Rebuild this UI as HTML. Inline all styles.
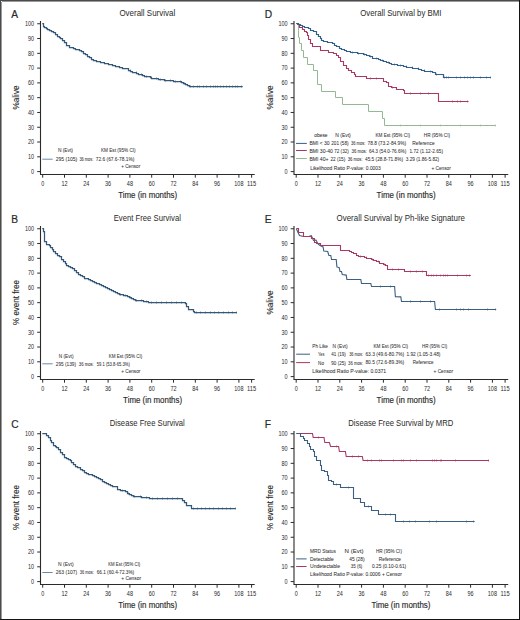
<!DOCTYPE html>
<html><head><meta charset="utf-8"><style>
html,body{margin:0;padding:0;background:#fff;width:520px;height:620px;overflow:hidden;position:relative;font-family:"Liberation Sans", sans-serif;}
</style></head><body>
<svg width="520" height="620" viewBox="0 0 520 620" style="position:absolute;left:0;top:0" font-family='"Liberation Sans", sans-serif'>
<rect x="0" y="0" width="520" height="620" fill="#fff"/>
<g transform="translate(0.00,0.00)">
<path d="M40.5,21.0 V174.5 H254.7" fill="none" stroke="#2b2b2b" stroke-width="1.1"/>
<path d="M37.2,171.60 H40.5" stroke="#2b2b2b" stroke-width="1"/>
<text x="34.10" y="173.85" font-size="6.4" text-anchor="end" fill="#2a2a2a" textLength="3.05" lengthAdjust="spacingAndGlyphs">0</text>
<path d="M37.2,156.81 H40.5" stroke="#2b2b2b" stroke-width="1"/>
<text x="34.10" y="159.06" font-size="6.4" text-anchor="end" fill="#2a2a2a" textLength="6.10" lengthAdjust="spacingAndGlyphs">10</text>
<path d="M37.2,142.03 H40.5" stroke="#2b2b2b" stroke-width="1"/>
<text x="34.10" y="144.28" font-size="6.4" text-anchor="end" fill="#2a2a2a" textLength="6.10" lengthAdjust="spacingAndGlyphs">20</text>
<path d="M37.2,127.25 H40.5" stroke="#2b2b2b" stroke-width="1"/>
<text x="34.10" y="129.50" font-size="6.4" text-anchor="end" fill="#2a2a2a" textLength="6.10" lengthAdjust="spacingAndGlyphs">30</text>
<path d="M37.2,112.46 H40.5" stroke="#2b2b2b" stroke-width="1"/>
<text x="34.10" y="114.71" font-size="6.4" text-anchor="end" fill="#2a2a2a" textLength="6.10" lengthAdjust="spacingAndGlyphs">40</text>
<path d="M37.2,97.67 H40.5" stroke="#2b2b2b" stroke-width="1"/>
<text x="34.10" y="99.92" font-size="6.4" text-anchor="end" fill="#2a2a2a" textLength="6.10" lengthAdjust="spacingAndGlyphs">50</text>
<path d="M37.2,82.89 H40.5" stroke="#2b2b2b" stroke-width="1"/>
<text x="34.10" y="85.14" font-size="6.4" text-anchor="end" fill="#2a2a2a" textLength="6.10" lengthAdjust="spacingAndGlyphs">60</text>
<path d="M37.2,68.11 H40.5" stroke="#2b2b2b" stroke-width="1"/>
<text x="34.10" y="70.36" font-size="6.4" text-anchor="end" fill="#2a2a2a" textLength="6.10" lengthAdjust="spacingAndGlyphs">70</text>
<path d="M37.2,53.32 H40.5" stroke="#2b2b2b" stroke-width="1"/>
<text x="34.10" y="55.57" font-size="6.4" text-anchor="end" fill="#2a2a2a" textLength="6.10" lengthAdjust="spacingAndGlyphs">80</text>
<path d="M37.2,38.53 H40.5" stroke="#2b2b2b" stroke-width="1"/>
<text x="34.10" y="40.78" font-size="6.4" text-anchor="end" fill="#2a2a2a" textLength="6.10" lengthAdjust="spacingAndGlyphs">90</text>
<path d="M37.2,23.75 H40.5" stroke="#2b2b2b" stroke-width="1"/>
<text x="34.10" y="26.00" font-size="6.4" text-anchor="end" fill="#2a2a2a" textLength="9.15" lengthAdjust="spacingAndGlyphs">100</text>
<path d="M42.70,174.5 V177.7" stroke="#2b2b2b" stroke-width="1"/>
<text x="42.70" y="185.90" font-size="6.4" text-anchor="middle" fill="#2a2a2a" textLength="3.05" lengthAdjust="spacingAndGlyphs">0</text>
<path d="M64.50,174.5 V177.7" stroke="#2b2b2b" stroke-width="1"/>
<text x="64.50" y="185.90" font-size="6.4" text-anchor="middle" fill="#2a2a2a" textLength="6.10" lengthAdjust="spacingAndGlyphs">12</text>
<path d="M86.30,174.5 V177.7" stroke="#2b2b2b" stroke-width="1"/>
<text x="86.30" y="185.90" font-size="6.4" text-anchor="middle" fill="#2a2a2a" textLength="6.10" lengthAdjust="spacingAndGlyphs">24</text>
<path d="M108.10,174.5 V177.7" stroke="#2b2b2b" stroke-width="1"/>
<text x="108.10" y="185.90" font-size="6.4" text-anchor="middle" fill="#2a2a2a" textLength="6.10" lengthAdjust="spacingAndGlyphs">36</text>
<path d="M129.90,174.5 V177.7" stroke="#2b2b2b" stroke-width="1"/>
<text x="129.90" y="185.90" font-size="6.4" text-anchor="middle" fill="#2a2a2a" textLength="6.10" lengthAdjust="spacingAndGlyphs">48</text>
<path d="M151.70,174.5 V177.7" stroke="#2b2b2b" stroke-width="1"/>
<text x="151.70" y="185.90" font-size="6.4" text-anchor="middle" fill="#2a2a2a" textLength="6.10" lengthAdjust="spacingAndGlyphs">60</text>
<path d="M173.50,174.5 V177.7" stroke="#2b2b2b" stroke-width="1"/>
<text x="173.50" y="185.90" font-size="6.4" text-anchor="middle" fill="#2a2a2a" textLength="6.10" lengthAdjust="spacingAndGlyphs">72</text>
<path d="M195.30,174.5 V177.7" stroke="#2b2b2b" stroke-width="1"/>
<text x="195.30" y="185.90" font-size="6.4" text-anchor="middle" fill="#2a2a2a" textLength="6.10" lengthAdjust="spacingAndGlyphs">84</text>
<path d="M217.10,174.5 V177.7" stroke="#2b2b2b" stroke-width="1"/>
<text x="217.10" y="185.90" font-size="6.4" text-anchor="middle" fill="#2a2a2a" textLength="6.10" lengthAdjust="spacingAndGlyphs">96</text>
<path d="M238.90,174.5 V177.7" stroke="#2b2b2b" stroke-width="1"/>
<text x="238.90" y="185.90" font-size="6.4" text-anchor="middle" fill="#2a2a2a" textLength="9.15" lengthAdjust="spacingAndGlyphs">108</text>
<path d="M251.62,174.5 V177.7" stroke="#2b2b2b" stroke-width="1"/>
<text x="251.62" y="185.90" font-size="6.4" text-anchor="middle" fill="#2a2a2a" textLength="9.15" lengthAdjust="spacingAndGlyphs">115</text>
<text x="147.70" y="198.00" font-size="8.2" text-anchor="middle" fill="#2a2a2a" textLength="59.00" lengthAdjust="spacingAndGlyphs" stroke="#2a2a2a" stroke-width="0.15">Time (in months)</text>
<text x="11.30" y="17.80" font-size="10.2" text-anchor="start" fill="#2a2a2a" stroke="#2a2a2a" stroke-width="0.2">A</text>
<text x="147.30" y="16.00" font-size="9.4" text-anchor="middle" fill="#2a2a2a" textLength="55.80" lengthAdjust="spacingAndGlyphs">Overall Survival</text>
<text transform="translate(19.2,97.5) rotate(-90)" x="0" y="0" font-size="8.8" text-anchor="middle" fill="#2a2a2a" textLength="24.00" lengthAdjust="spacingAndGlyphs" stroke="#2a2a2a" stroke-width="0.12">%alive</text>
</g>
<g transform="translate(0.00,205.00)">
<path d="M40.5,21.0 V174.5 H254.7" fill="none" stroke="#2b2b2b" stroke-width="1.1"/>
<path d="M37.2,171.60 H40.5" stroke="#2b2b2b" stroke-width="1"/>
<text x="34.10" y="173.85" font-size="6.4" text-anchor="end" fill="#2a2a2a" textLength="3.05" lengthAdjust="spacingAndGlyphs">0</text>
<path d="M37.2,156.81 H40.5" stroke="#2b2b2b" stroke-width="1"/>
<text x="34.10" y="159.06" font-size="6.4" text-anchor="end" fill="#2a2a2a" textLength="6.10" lengthAdjust="spacingAndGlyphs">10</text>
<path d="M37.2,142.03 H40.5" stroke="#2b2b2b" stroke-width="1"/>
<text x="34.10" y="144.28" font-size="6.4" text-anchor="end" fill="#2a2a2a" textLength="6.10" lengthAdjust="spacingAndGlyphs">20</text>
<path d="M37.2,127.25 H40.5" stroke="#2b2b2b" stroke-width="1"/>
<text x="34.10" y="129.50" font-size="6.4" text-anchor="end" fill="#2a2a2a" textLength="6.10" lengthAdjust="spacingAndGlyphs">30</text>
<path d="M37.2,112.46 H40.5" stroke="#2b2b2b" stroke-width="1"/>
<text x="34.10" y="114.71" font-size="6.4" text-anchor="end" fill="#2a2a2a" textLength="6.10" lengthAdjust="spacingAndGlyphs">40</text>
<path d="M37.2,97.67 H40.5" stroke="#2b2b2b" stroke-width="1"/>
<text x="34.10" y="99.92" font-size="6.4" text-anchor="end" fill="#2a2a2a" textLength="6.10" lengthAdjust="spacingAndGlyphs">50</text>
<path d="M37.2,82.89 H40.5" stroke="#2b2b2b" stroke-width="1"/>
<text x="34.10" y="85.14" font-size="6.4" text-anchor="end" fill="#2a2a2a" textLength="6.10" lengthAdjust="spacingAndGlyphs">60</text>
<path d="M37.2,68.11 H40.5" stroke="#2b2b2b" stroke-width="1"/>
<text x="34.10" y="70.36" font-size="6.4" text-anchor="end" fill="#2a2a2a" textLength="6.10" lengthAdjust="spacingAndGlyphs">70</text>
<path d="M37.2,53.32 H40.5" stroke="#2b2b2b" stroke-width="1"/>
<text x="34.10" y="55.57" font-size="6.4" text-anchor="end" fill="#2a2a2a" textLength="6.10" lengthAdjust="spacingAndGlyphs">80</text>
<path d="M37.2,38.53 H40.5" stroke="#2b2b2b" stroke-width="1"/>
<text x="34.10" y="40.78" font-size="6.4" text-anchor="end" fill="#2a2a2a" textLength="6.10" lengthAdjust="spacingAndGlyphs">90</text>
<path d="M37.2,23.75 H40.5" stroke="#2b2b2b" stroke-width="1"/>
<text x="34.10" y="26.00" font-size="6.4" text-anchor="end" fill="#2a2a2a" textLength="9.15" lengthAdjust="spacingAndGlyphs">100</text>
<path d="M42.70,174.5 V177.7" stroke="#2b2b2b" stroke-width="1"/>
<text x="42.70" y="185.90" font-size="6.4" text-anchor="middle" fill="#2a2a2a" textLength="3.05" lengthAdjust="spacingAndGlyphs">0</text>
<path d="M64.50,174.5 V177.7" stroke="#2b2b2b" stroke-width="1"/>
<text x="64.50" y="185.90" font-size="6.4" text-anchor="middle" fill="#2a2a2a" textLength="6.10" lengthAdjust="spacingAndGlyphs">12</text>
<path d="M86.30,174.5 V177.7" stroke="#2b2b2b" stroke-width="1"/>
<text x="86.30" y="185.90" font-size="6.4" text-anchor="middle" fill="#2a2a2a" textLength="6.10" lengthAdjust="spacingAndGlyphs">24</text>
<path d="M108.10,174.5 V177.7" stroke="#2b2b2b" stroke-width="1"/>
<text x="108.10" y="185.90" font-size="6.4" text-anchor="middle" fill="#2a2a2a" textLength="6.10" lengthAdjust="spacingAndGlyphs">36</text>
<path d="M129.90,174.5 V177.7" stroke="#2b2b2b" stroke-width="1"/>
<text x="129.90" y="185.90" font-size="6.4" text-anchor="middle" fill="#2a2a2a" textLength="6.10" lengthAdjust="spacingAndGlyphs">48</text>
<path d="M151.70,174.5 V177.7" stroke="#2b2b2b" stroke-width="1"/>
<text x="151.70" y="185.90" font-size="6.4" text-anchor="middle" fill="#2a2a2a" textLength="6.10" lengthAdjust="spacingAndGlyphs">60</text>
<path d="M173.50,174.5 V177.7" stroke="#2b2b2b" stroke-width="1"/>
<text x="173.50" y="185.90" font-size="6.4" text-anchor="middle" fill="#2a2a2a" textLength="6.10" lengthAdjust="spacingAndGlyphs">72</text>
<path d="M195.30,174.5 V177.7" stroke="#2b2b2b" stroke-width="1"/>
<text x="195.30" y="185.90" font-size="6.4" text-anchor="middle" fill="#2a2a2a" textLength="6.10" lengthAdjust="spacingAndGlyphs">84</text>
<path d="M217.10,174.5 V177.7" stroke="#2b2b2b" stroke-width="1"/>
<text x="217.10" y="185.90" font-size="6.4" text-anchor="middle" fill="#2a2a2a" textLength="6.10" lengthAdjust="spacingAndGlyphs">96</text>
<path d="M238.90,174.5 V177.7" stroke="#2b2b2b" stroke-width="1"/>
<text x="238.90" y="185.90" font-size="6.4" text-anchor="middle" fill="#2a2a2a" textLength="9.15" lengthAdjust="spacingAndGlyphs">108</text>
<path d="M251.62,174.5 V177.7" stroke="#2b2b2b" stroke-width="1"/>
<text x="251.62" y="185.90" font-size="6.4" text-anchor="middle" fill="#2a2a2a" textLength="9.15" lengthAdjust="spacingAndGlyphs">115</text>
<text x="152.60" y="198.00" font-size="8.2" text-anchor="middle" fill="#2a2a2a" textLength="59.00" lengthAdjust="spacingAndGlyphs" stroke="#2a2a2a" stroke-width="0.15">Time (in months)</text>
<text x="11.30" y="17.80" font-size="10.2" text-anchor="start" fill="#2a2a2a" stroke="#2a2a2a" stroke-width="0.2">B</text>
<text x="147.30" y="16.00" font-size="9.4" text-anchor="middle" fill="#2a2a2a" textLength="67.20" lengthAdjust="spacingAndGlyphs">Event Free Survival</text>
<text transform="translate(19.2,97.5) rotate(-90)" x="0" y="0" font-size="8.8" text-anchor="middle" fill="#2a2a2a" textLength="44.80" lengthAdjust="spacingAndGlyphs" stroke="#2a2a2a" stroke-width="0.12">% event free</text>
</g>
<g transform="translate(0.00,410.00)">
<path d="M40.5,21.0 V174.5 H254.7" fill="none" stroke="#2b2b2b" stroke-width="1.1"/>
<path d="M37.2,171.60 H40.5" stroke="#2b2b2b" stroke-width="1"/>
<text x="34.10" y="173.85" font-size="6.4" text-anchor="end" fill="#2a2a2a" textLength="3.05" lengthAdjust="spacingAndGlyphs">0</text>
<path d="M37.2,156.81 H40.5" stroke="#2b2b2b" stroke-width="1"/>
<text x="34.10" y="159.06" font-size="6.4" text-anchor="end" fill="#2a2a2a" textLength="6.10" lengthAdjust="spacingAndGlyphs">10</text>
<path d="M37.2,142.03 H40.5" stroke="#2b2b2b" stroke-width="1"/>
<text x="34.10" y="144.28" font-size="6.4" text-anchor="end" fill="#2a2a2a" textLength="6.10" lengthAdjust="spacingAndGlyphs">20</text>
<path d="M37.2,127.25 H40.5" stroke="#2b2b2b" stroke-width="1"/>
<text x="34.10" y="129.50" font-size="6.4" text-anchor="end" fill="#2a2a2a" textLength="6.10" lengthAdjust="spacingAndGlyphs">30</text>
<path d="M37.2,112.46 H40.5" stroke="#2b2b2b" stroke-width="1"/>
<text x="34.10" y="114.71" font-size="6.4" text-anchor="end" fill="#2a2a2a" textLength="6.10" lengthAdjust="spacingAndGlyphs">40</text>
<path d="M37.2,97.67 H40.5" stroke="#2b2b2b" stroke-width="1"/>
<text x="34.10" y="99.92" font-size="6.4" text-anchor="end" fill="#2a2a2a" textLength="6.10" lengthAdjust="spacingAndGlyphs">50</text>
<path d="M37.2,82.89 H40.5" stroke="#2b2b2b" stroke-width="1"/>
<text x="34.10" y="85.14" font-size="6.4" text-anchor="end" fill="#2a2a2a" textLength="6.10" lengthAdjust="spacingAndGlyphs">60</text>
<path d="M37.2,68.11 H40.5" stroke="#2b2b2b" stroke-width="1"/>
<text x="34.10" y="70.36" font-size="6.4" text-anchor="end" fill="#2a2a2a" textLength="6.10" lengthAdjust="spacingAndGlyphs">70</text>
<path d="M37.2,53.32 H40.5" stroke="#2b2b2b" stroke-width="1"/>
<text x="34.10" y="55.57" font-size="6.4" text-anchor="end" fill="#2a2a2a" textLength="6.10" lengthAdjust="spacingAndGlyphs">80</text>
<path d="M37.2,38.53 H40.5" stroke="#2b2b2b" stroke-width="1"/>
<text x="34.10" y="40.78" font-size="6.4" text-anchor="end" fill="#2a2a2a" textLength="6.10" lengthAdjust="spacingAndGlyphs">90</text>
<path d="M37.2,23.75 H40.5" stroke="#2b2b2b" stroke-width="1"/>
<text x="34.10" y="26.00" font-size="6.4" text-anchor="end" fill="#2a2a2a" textLength="9.15" lengthAdjust="spacingAndGlyphs">100</text>
<path d="M42.70,174.5 V177.7" stroke="#2b2b2b" stroke-width="1"/>
<text x="42.70" y="185.90" font-size="6.4" text-anchor="middle" fill="#2a2a2a" textLength="3.05" lengthAdjust="spacingAndGlyphs">0</text>
<path d="M64.50,174.5 V177.7" stroke="#2b2b2b" stroke-width="1"/>
<text x="64.50" y="185.90" font-size="6.4" text-anchor="middle" fill="#2a2a2a" textLength="6.10" lengthAdjust="spacingAndGlyphs">12</text>
<path d="M86.30,174.5 V177.7" stroke="#2b2b2b" stroke-width="1"/>
<text x="86.30" y="185.90" font-size="6.4" text-anchor="middle" fill="#2a2a2a" textLength="6.10" lengthAdjust="spacingAndGlyphs">24</text>
<path d="M108.10,174.5 V177.7" stroke="#2b2b2b" stroke-width="1"/>
<text x="108.10" y="185.90" font-size="6.4" text-anchor="middle" fill="#2a2a2a" textLength="6.10" lengthAdjust="spacingAndGlyphs">36</text>
<path d="M129.90,174.5 V177.7" stroke="#2b2b2b" stroke-width="1"/>
<text x="129.90" y="185.90" font-size="6.4" text-anchor="middle" fill="#2a2a2a" textLength="6.10" lengthAdjust="spacingAndGlyphs">48</text>
<path d="M151.70,174.5 V177.7" stroke="#2b2b2b" stroke-width="1"/>
<text x="151.70" y="185.90" font-size="6.4" text-anchor="middle" fill="#2a2a2a" textLength="6.10" lengthAdjust="spacingAndGlyphs">60</text>
<path d="M173.50,174.5 V177.7" stroke="#2b2b2b" stroke-width="1"/>
<text x="173.50" y="185.90" font-size="6.4" text-anchor="middle" fill="#2a2a2a" textLength="6.10" lengthAdjust="spacingAndGlyphs">72</text>
<path d="M195.30,174.5 V177.7" stroke="#2b2b2b" stroke-width="1"/>
<text x="195.30" y="185.90" font-size="6.4" text-anchor="middle" fill="#2a2a2a" textLength="6.10" lengthAdjust="spacingAndGlyphs">84</text>
<path d="M217.10,174.5 V177.7" stroke="#2b2b2b" stroke-width="1"/>
<text x="217.10" y="185.90" font-size="6.4" text-anchor="middle" fill="#2a2a2a" textLength="6.10" lengthAdjust="spacingAndGlyphs">96</text>
<path d="M238.90,174.5 V177.7" stroke="#2b2b2b" stroke-width="1"/>
<text x="238.90" y="185.90" font-size="6.4" text-anchor="middle" fill="#2a2a2a" textLength="9.15" lengthAdjust="spacingAndGlyphs">108</text>
<path d="M251.62,174.5 V177.7" stroke="#2b2b2b" stroke-width="1"/>
<text x="251.62" y="185.90" font-size="6.4" text-anchor="middle" fill="#2a2a2a" textLength="9.15" lengthAdjust="spacingAndGlyphs">115</text>
<text x="147.70" y="198.00" font-size="8.2" text-anchor="middle" fill="#2a2a2a" textLength="59.00" lengthAdjust="spacingAndGlyphs" stroke="#2a2a2a" stroke-width="0.15">Time (in months)</text>
<text x="11.30" y="17.80" font-size="10.2" text-anchor="start" fill="#2a2a2a" stroke="#2a2a2a" stroke-width="0.2">C</text>
<text x="147.30" y="16.00" font-size="9.4" text-anchor="middle" fill="#2a2a2a" textLength="75.00" lengthAdjust="spacingAndGlyphs">Disease Free Survival</text>
<text transform="translate(19.2,97.5) rotate(-90)" x="0" y="0" font-size="8.8" text-anchor="middle" fill="#2a2a2a" textLength="44.80" lengthAdjust="spacingAndGlyphs" stroke="#2a2a2a" stroke-width="0.12">% event free</text>
</g>
<g transform="translate(253.50,0.00)">
<path d="M40.5,21.0 V174.5 H254.7" fill="none" stroke="#2b2b2b" stroke-width="1.1"/>
<path d="M37.2,171.60 H40.5" stroke="#2b2b2b" stroke-width="1"/>
<text x="34.10" y="173.85" font-size="6.4" text-anchor="end" fill="#2a2a2a" textLength="3.05" lengthAdjust="spacingAndGlyphs">0</text>
<path d="M37.2,156.81 H40.5" stroke="#2b2b2b" stroke-width="1"/>
<text x="34.10" y="159.06" font-size="6.4" text-anchor="end" fill="#2a2a2a" textLength="6.10" lengthAdjust="spacingAndGlyphs">10</text>
<path d="M37.2,142.03 H40.5" stroke="#2b2b2b" stroke-width="1"/>
<text x="34.10" y="144.28" font-size="6.4" text-anchor="end" fill="#2a2a2a" textLength="6.10" lengthAdjust="spacingAndGlyphs">20</text>
<path d="M37.2,127.25 H40.5" stroke="#2b2b2b" stroke-width="1"/>
<text x="34.10" y="129.50" font-size="6.4" text-anchor="end" fill="#2a2a2a" textLength="6.10" lengthAdjust="spacingAndGlyphs">30</text>
<path d="M37.2,112.46 H40.5" stroke="#2b2b2b" stroke-width="1"/>
<text x="34.10" y="114.71" font-size="6.4" text-anchor="end" fill="#2a2a2a" textLength="6.10" lengthAdjust="spacingAndGlyphs">40</text>
<path d="M37.2,97.67 H40.5" stroke="#2b2b2b" stroke-width="1"/>
<text x="34.10" y="99.92" font-size="6.4" text-anchor="end" fill="#2a2a2a" textLength="6.10" lengthAdjust="spacingAndGlyphs">50</text>
<path d="M37.2,82.89 H40.5" stroke="#2b2b2b" stroke-width="1"/>
<text x="34.10" y="85.14" font-size="6.4" text-anchor="end" fill="#2a2a2a" textLength="6.10" lengthAdjust="spacingAndGlyphs">60</text>
<path d="M37.2,68.11 H40.5" stroke="#2b2b2b" stroke-width="1"/>
<text x="34.10" y="70.36" font-size="6.4" text-anchor="end" fill="#2a2a2a" textLength="6.10" lengthAdjust="spacingAndGlyphs">70</text>
<path d="M37.2,53.32 H40.5" stroke="#2b2b2b" stroke-width="1"/>
<text x="34.10" y="55.57" font-size="6.4" text-anchor="end" fill="#2a2a2a" textLength="6.10" lengthAdjust="spacingAndGlyphs">80</text>
<path d="M37.2,38.53 H40.5" stroke="#2b2b2b" stroke-width="1"/>
<text x="34.10" y="40.78" font-size="6.4" text-anchor="end" fill="#2a2a2a" textLength="6.10" lengthAdjust="spacingAndGlyphs">90</text>
<path d="M37.2,23.75 H40.5" stroke="#2b2b2b" stroke-width="1"/>
<text x="34.10" y="26.00" font-size="6.4" text-anchor="end" fill="#2a2a2a" textLength="9.15" lengthAdjust="spacingAndGlyphs">100</text>
<path d="M42.70,174.5 V177.7" stroke="#2b2b2b" stroke-width="1"/>
<text x="42.70" y="185.90" font-size="6.4" text-anchor="middle" fill="#2a2a2a" textLength="3.05" lengthAdjust="spacingAndGlyphs">0</text>
<path d="M64.50,174.5 V177.7" stroke="#2b2b2b" stroke-width="1"/>
<text x="64.50" y="185.90" font-size="6.4" text-anchor="middle" fill="#2a2a2a" textLength="6.10" lengthAdjust="spacingAndGlyphs">12</text>
<path d="M86.30,174.5 V177.7" stroke="#2b2b2b" stroke-width="1"/>
<text x="86.30" y="185.90" font-size="6.4" text-anchor="middle" fill="#2a2a2a" textLength="6.10" lengthAdjust="spacingAndGlyphs">24</text>
<path d="M108.10,174.5 V177.7" stroke="#2b2b2b" stroke-width="1"/>
<text x="108.10" y="185.90" font-size="6.4" text-anchor="middle" fill="#2a2a2a" textLength="6.10" lengthAdjust="spacingAndGlyphs">36</text>
<path d="M129.90,174.5 V177.7" stroke="#2b2b2b" stroke-width="1"/>
<text x="129.90" y="185.90" font-size="6.4" text-anchor="middle" fill="#2a2a2a" textLength="6.10" lengthAdjust="spacingAndGlyphs">48</text>
<path d="M151.70,174.5 V177.7" stroke="#2b2b2b" stroke-width="1"/>
<text x="151.70" y="185.90" font-size="6.4" text-anchor="middle" fill="#2a2a2a" textLength="6.10" lengthAdjust="spacingAndGlyphs">60</text>
<path d="M173.50,174.5 V177.7" stroke="#2b2b2b" stroke-width="1"/>
<text x="173.50" y="185.90" font-size="6.4" text-anchor="middle" fill="#2a2a2a" textLength="6.10" lengthAdjust="spacingAndGlyphs">72</text>
<path d="M195.30,174.5 V177.7" stroke="#2b2b2b" stroke-width="1"/>
<text x="195.30" y="185.90" font-size="6.4" text-anchor="middle" fill="#2a2a2a" textLength="6.10" lengthAdjust="spacingAndGlyphs">84</text>
<path d="M217.10,174.5 V177.7" stroke="#2b2b2b" stroke-width="1"/>
<text x="217.10" y="185.90" font-size="6.4" text-anchor="middle" fill="#2a2a2a" textLength="6.10" lengthAdjust="spacingAndGlyphs">96</text>
<path d="M238.90,174.5 V177.7" stroke="#2b2b2b" stroke-width="1"/>
<text x="238.90" y="185.90" font-size="6.4" text-anchor="middle" fill="#2a2a2a" textLength="9.15" lengthAdjust="spacingAndGlyphs">108</text>
<path d="M251.62,174.5 V177.7" stroke="#2b2b2b" stroke-width="1"/>
<text x="251.62" y="185.90" font-size="6.4" text-anchor="middle" fill="#2a2a2a" textLength="9.15" lengthAdjust="spacingAndGlyphs">115</text>
<text x="152.60" y="198.00" font-size="8.2" text-anchor="middle" fill="#2a2a2a" textLength="59.00" lengthAdjust="spacingAndGlyphs" stroke="#2a2a2a" stroke-width="0.15">Time (in months)</text>
<text x="11.30" y="17.80" font-size="10.2" text-anchor="start" fill="#2a2a2a" stroke="#2a2a2a" stroke-width="0.2">D</text>
<text x="147.30" y="16.00" font-size="9.4" text-anchor="middle" fill="#2a2a2a" textLength="81.00" lengthAdjust="spacingAndGlyphs">Overall Survival by BMI</text>
<text transform="translate(19.2,97.5) rotate(-90)" x="0" y="0" font-size="8.8" text-anchor="middle" fill="#2a2a2a" textLength="24.00" lengthAdjust="spacingAndGlyphs" stroke="#2a2a2a" stroke-width="0.12">%alive</text>
</g>
<g transform="translate(253.50,205.00)">
<path d="M40.5,21.0 V174.5 H254.7" fill="none" stroke="#2b2b2b" stroke-width="1.1"/>
<path d="M37.2,171.60 H40.5" stroke="#2b2b2b" stroke-width="1"/>
<text x="34.10" y="173.85" font-size="6.4" text-anchor="end" fill="#2a2a2a" textLength="3.05" lengthAdjust="spacingAndGlyphs">0</text>
<path d="M37.2,156.81 H40.5" stroke="#2b2b2b" stroke-width="1"/>
<text x="34.10" y="159.06" font-size="6.4" text-anchor="end" fill="#2a2a2a" textLength="6.10" lengthAdjust="spacingAndGlyphs">10</text>
<path d="M37.2,142.03 H40.5" stroke="#2b2b2b" stroke-width="1"/>
<text x="34.10" y="144.28" font-size="6.4" text-anchor="end" fill="#2a2a2a" textLength="6.10" lengthAdjust="spacingAndGlyphs">20</text>
<path d="M37.2,127.25 H40.5" stroke="#2b2b2b" stroke-width="1"/>
<text x="34.10" y="129.50" font-size="6.4" text-anchor="end" fill="#2a2a2a" textLength="6.10" lengthAdjust="spacingAndGlyphs">30</text>
<path d="M37.2,112.46 H40.5" stroke="#2b2b2b" stroke-width="1"/>
<text x="34.10" y="114.71" font-size="6.4" text-anchor="end" fill="#2a2a2a" textLength="6.10" lengthAdjust="spacingAndGlyphs">40</text>
<path d="M37.2,97.67 H40.5" stroke="#2b2b2b" stroke-width="1"/>
<text x="34.10" y="99.92" font-size="6.4" text-anchor="end" fill="#2a2a2a" textLength="6.10" lengthAdjust="spacingAndGlyphs">50</text>
<path d="M37.2,82.89 H40.5" stroke="#2b2b2b" stroke-width="1"/>
<text x="34.10" y="85.14" font-size="6.4" text-anchor="end" fill="#2a2a2a" textLength="6.10" lengthAdjust="spacingAndGlyphs">60</text>
<path d="M37.2,68.11 H40.5" stroke="#2b2b2b" stroke-width="1"/>
<text x="34.10" y="70.36" font-size="6.4" text-anchor="end" fill="#2a2a2a" textLength="6.10" lengthAdjust="spacingAndGlyphs">70</text>
<path d="M37.2,53.32 H40.5" stroke="#2b2b2b" stroke-width="1"/>
<text x="34.10" y="55.57" font-size="6.4" text-anchor="end" fill="#2a2a2a" textLength="6.10" lengthAdjust="spacingAndGlyphs">80</text>
<path d="M37.2,38.53 H40.5" stroke="#2b2b2b" stroke-width="1"/>
<text x="34.10" y="40.78" font-size="6.4" text-anchor="end" fill="#2a2a2a" textLength="6.10" lengthAdjust="spacingAndGlyphs">90</text>
<path d="M37.2,23.75 H40.5" stroke="#2b2b2b" stroke-width="1"/>
<text x="34.10" y="26.00" font-size="6.4" text-anchor="end" fill="#2a2a2a" textLength="9.15" lengthAdjust="spacingAndGlyphs">100</text>
<path d="M42.70,174.5 V177.7" stroke="#2b2b2b" stroke-width="1"/>
<text x="42.70" y="185.90" font-size="6.4" text-anchor="middle" fill="#2a2a2a" textLength="3.05" lengthAdjust="spacingAndGlyphs">0</text>
<path d="M64.50,174.5 V177.7" stroke="#2b2b2b" stroke-width="1"/>
<text x="64.50" y="185.90" font-size="6.4" text-anchor="middle" fill="#2a2a2a" textLength="6.10" lengthAdjust="spacingAndGlyphs">12</text>
<path d="M86.30,174.5 V177.7" stroke="#2b2b2b" stroke-width="1"/>
<text x="86.30" y="185.90" font-size="6.4" text-anchor="middle" fill="#2a2a2a" textLength="6.10" lengthAdjust="spacingAndGlyphs">24</text>
<path d="M108.10,174.5 V177.7" stroke="#2b2b2b" stroke-width="1"/>
<text x="108.10" y="185.90" font-size="6.4" text-anchor="middle" fill="#2a2a2a" textLength="6.10" lengthAdjust="spacingAndGlyphs">36</text>
<path d="M129.90,174.5 V177.7" stroke="#2b2b2b" stroke-width="1"/>
<text x="129.90" y="185.90" font-size="6.4" text-anchor="middle" fill="#2a2a2a" textLength="6.10" lengthAdjust="spacingAndGlyphs">48</text>
<path d="M151.70,174.5 V177.7" stroke="#2b2b2b" stroke-width="1"/>
<text x="151.70" y="185.90" font-size="6.4" text-anchor="middle" fill="#2a2a2a" textLength="6.10" lengthAdjust="spacingAndGlyphs">60</text>
<path d="M173.50,174.5 V177.7" stroke="#2b2b2b" stroke-width="1"/>
<text x="173.50" y="185.90" font-size="6.4" text-anchor="middle" fill="#2a2a2a" textLength="6.10" lengthAdjust="spacingAndGlyphs">72</text>
<path d="M195.30,174.5 V177.7" stroke="#2b2b2b" stroke-width="1"/>
<text x="195.30" y="185.90" font-size="6.4" text-anchor="middle" fill="#2a2a2a" textLength="6.10" lengthAdjust="spacingAndGlyphs">84</text>
<path d="M217.10,174.5 V177.7" stroke="#2b2b2b" stroke-width="1"/>
<text x="217.10" y="185.90" font-size="6.4" text-anchor="middle" fill="#2a2a2a" textLength="6.10" lengthAdjust="spacingAndGlyphs">96</text>
<path d="M238.90,174.5 V177.7" stroke="#2b2b2b" stroke-width="1"/>
<text x="238.90" y="185.90" font-size="6.4" text-anchor="middle" fill="#2a2a2a" textLength="9.15" lengthAdjust="spacingAndGlyphs">108</text>
<path d="M251.62,174.5 V177.7" stroke="#2b2b2b" stroke-width="1"/>
<text x="251.62" y="185.90" font-size="6.4" text-anchor="middle" fill="#2a2a2a" textLength="9.15" lengthAdjust="spacingAndGlyphs">115</text>
<text x="152.60" y="198.00" font-size="8.2" text-anchor="middle" fill="#2a2a2a" textLength="59.00" lengthAdjust="spacingAndGlyphs" stroke="#2a2a2a" stroke-width="0.15">Time (in months)</text>
<text x="11.30" y="17.80" font-size="10.2" text-anchor="start" fill="#2a2a2a" stroke="#2a2a2a" stroke-width="0.2">E</text>
<text x="147.30" y="16.00" font-size="9.4" text-anchor="middle" fill="#2a2a2a" textLength="128.40" lengthAdjust="spacingAndGlyphs">Overall Survival by Ph-like Signature</text>
<text transform="translate(19.2,97.5) rotate(-90)" x="0" y="0" font-size="8.8" text-anchor="middle" fill="#2a2a2a" textLength="24.00" lengthAdjust="spacingAndGlyphs" stroke="#2a2a2a" stroke-width="0.12">%alive</text>
</g>
<g transform="translate(253.50,410.00)">
<path d="M40.5,21.0 V174.5 H254.7" fill="none" stroke="#2b2b2b" stroke-width="1.1"/>
<path d="M37.2,171.60 H40.5" stroke="#2b2b2b" stroke-width="1"/>
<text x="34.10" y="173.85" font-size="6.4" text-anchor="end" fill="#2a2a2a" textLength="3.05" lengthAdjust="spacingAndGlyphs">0</text>
<path d="M37.2,156.81 H40.5" stroke="#2b2b2b" stroke-width="1"/>
<text x="34.10" y="159.06" font-size="6.4" text-anchor="end" fill="#2a2a2a" textLength="6.10" lengthAdjust="spacingAndGlyphs">10</text>
<path d="M37.2,142.03 H40.5" stroke="#2b2b2b" stroke-width="1"/>
<text x="34.10" y="144.28" font-size="6.4" text-anchor="end" fill="#2a2a2a" textLength="6.10" lengthAdjust="spacingAndGlyphs">20</text>
<path d="M37.2,127.25 H40.5" stroke="#2b2b2b" stroke-width="1"/>
<text x="34.10" y="129.50" font-size="6.4" text-anchor="end" fill="#2a2a2a" textLength="6.10" lengthAdjust="spacingAndGlyphs">30</text>
<path d="M37.2,112.46 H40.5" stroke="#2b2b2b" stroke-width="1"/>
<text x="34.10" y="114.71" font-size="6.4" text-anchor="end" fill="#2a2a2a" textLength="6.10" lengthAdjust="spacingAndGlyphs">40</text>
<path d="M37.2,97.67 H40.5" stroke="#2b2b2b" stroke-width="1"/>
<text x="34.10" y="99.92" font-size="6.4" text-anchor="end" fill="#2a2a2a" textLength="6.10" lengthAdjust="spacingAndGlyphs">50</text>
<path d="M37.2,82.89 H40.5" stroke="#2b2b2b" stroke-width="1"/>
<text x="34.10" y="85.14" font-size="6.4" text-anchor="end" fill="#2a2a2a" textLength="6.10" lengthAdjust="spacingAndGlyphs">60</text>
<path d="M37.2,68.11 H40.5" stroke="#2b2b2b" stroke-width="1"/>
<text x="34.10" y="70.36" font-size="6.4" text-anchor="end" fill="#2a2a2a" textLength="6.10" lengthAdjust="spacingAndGlyphs">70</text>
<path d="M37.2,53.32 H40.5" stroke="#2b2b2b" stroke-width="1"/>
<text x="34.10" y="55.57" font-size="6.4" text-anchor="end" fill="#2a2a2a" textLength="6.10" lengthAdjust="spacingAndGlyphs">80</text>
<path d="M37.2,38.53 H40.5" stroke="#2b2b2b" stroke-width="1"/>
<text x="34.10" y="40.78" font-size="6.4" text-anchor="end" fill="#2a2a2a" textLength="6.10" lengthAdjust="spacingAndGlyphs">90</text>
<path d="M37.2,23.75 H40.5" stroke="#2b2b2b" stroke-width="1"/>
<text x="34.10" y="26.00" font-size="6.4" text-anchor="end" fill="#2a2a2a" textLength="9.15" lengthAdjust="spacingAndGlyphs">100</text>
<path d="M42.70,174.5 V177.7" stroke="#2b2b2b" stroke-width="1"/>
<text x="42.70" y="185.90" font-size="6.4" text-anchor="middle" fill="#2a2a2a" textLength="3.05" lengthAdjust="spacingAndGlyphs">0</text>
<path d="M64.50,174.5 V177.7" stroke="#2b2b2b" stroke-width="1"/>
<text x="64.50" y="185.90" font-size="6.4" text-anchor="middle" fill="#2a2a2a" textLength="6.10" lengthAdjust="spacingAndGlyphs">12</text>
<path d="M86.30,174.5 V177.7" stroke="#2b2b2b" stroke-width="1"/>
<text x="86.30" y="185.90" font-size="6.4" text-anchor="middle" fill="#2a2a2a" textLength="6.10" lengthAdjust="spacingAndGlyphs">24</text>
<path d="M108.10,174.5 V177.7" stroke="#2b2b2b" stroke-width="1"/>
<text x="108.10" y="185.90" font-size="6.4" text-anchor="middle" fill="#2a2a2a" textLength="6.10" lengthAdjust="spacingAndGlyphs">36</text>
<path d="M129.90,174.5 V177.7" stroke="#2b2b2b" stroke-width="1"/>
<text x="129.90" y="185.90" font-size="6.4" text-anchor="middle" fill="#2a2a2a" textLength="6.10" lengthAdjust="spacingAndGlyphs">48</text>
<path d="M151.70,174.5 V177.7" stroke="#2b2b2b" stroke-width="1"/>
<text x="151.70" y="185.90" font-size="6.4" text-anchor="middle" fill="#2a2a2a" textLength="6.10" lengthAdjust="spacingAndGlyphs">60</text>
<path d="M173.50,174.5 V177.7" stroke="#2b2b2b" stroke-width="1"/>
<text x="173.50" y="185.90" font-size="6.4" text-anchor="middle" fill="#2a2a2a" textLength="6.10" lengthAdjust="spacingAndGlyphs">72</text>
<path d="M195.30,174.5 V177.7" stroke="#2b2b2b" stroke-width="1"/>
<text x="195.30" y="185.90" font-size="6.4" text-anchor="middle" fill="#2a2a2a" textLength="6.10" lengthAdjust="spacingAndGlyphs">84</text>
<path d="M217.10,174.5 V177.7" stroke="#2b2b2b" stroke-width="1"/>
<text x="217.10" y="185.90" font-size="6.4" text-anchor="middle" fill="#2a2a2a" textLength="6.10" lengthAdjust="spacingAndGlyphs">96</text>
<path d="M238.90,174.5 V177.7" stroke="#2b2b2b" stroke-width="1"/>
<text x="238.90" y="185.90" font-size="6.4" text-anchor="middle" fill="#2a2a2a" textLength="9.15" lengthAdjust="spacingAndGlyphs">108</text>
<path d="M251.62,174.5 V177.7" stroke="#2b2b2b" stroke-width="1"/>
<text x="251.62" y="185.90" font-size="6.4" text-anchor="middle" fill="#2a2a2a" textLength="9.15" lengthAdjust="spacingAndGlyphs">115</text>
<text x="147.40" y="198.00" font-size="8.2" text-anchor="middle" fill="#2a2a2a" textLength="59.00" lengthAdjust="spacingAndGlyphs" stroke="#2a2a2a" stroke-width="0.15">Time (in months)</text>
<text x="11.30" y="17.80" font-size="10.2" text-anchor="start" fill="#2a2a2a" stroke="#2a2a2a" stroke-width="0.2">F</text>
<text x="147.30" y="16.00" font-size="9.4" text-anchor="middle" fill="#2a2a2a" textLength="105.00" lengthAdjust="spacingAndGlyphs">Disease Free Survival by MRD</text>
<text transform="translate(19.2,97.5) rotate(-90)" x="0" y="0" font-size="8.8" text-anchor="middle" fill="#2a2a2a" textLength="44.80" lengthAdjust="spacingAndGlyphs" stroke="#2a2a2a" stroke-width="0.12">% event free</text>
</g>
<path d="M42.30,23.50 L43.50,23.50 L43.50,26.50 L44.50,26.50 L44.50,27.50 L46.50,27.50 L46.50,28.50 L47.50,28.50 L47.50,29.50 L49.50,29.50 L49.50,30.50 L51.50,30.50 L51.50,31.50 L53.50,31.50 L53.50,32.50 L55.50,32.50 L55.50,34.50 L57.50,34.50 L57.50,36.50 L59.50,36.50 L59.50,37.50 L60.50,37.50 L60.50,38.50 L62.50,38.50 L62.50,40.50 L64.50,40.50 L64.50,42.50 L66.50,42.50 L66.50,45.50 L69.50,45.50 L69.50,47.50 L71.50,47.50 L71.50,47.50 L73.50,47.50 L73.50,48.50 L75.50,48.50 L75.50,49.50 L77.50,49.50 L77.50,49.50 L79.50,49.50 L79.50,50.50 L81.50,50.50 L81.50,51.50 L83.50,51.50 L83.50,53.50 L85.50,53.50 L85.50,54.50 L87.50,54.50 L87.50,56.50 L89.50,56.50 L89.50,57.50 L91.50,57.50 L91.50,59.50 L93.50,59.50 L93.50,60.50 L96.50,60.50 L96.50,61.50 L98.50,61.50 L98.50,61.50 L100.50,61.50 L100.50,62.50 L102.50,62.50 L102.50,62.50 L104.50,62.50 L104.50,63.50 L106.50,63.50 L106.50,63.50 L108.50,63.50 L108.50,64.50 L110.50,64.50 L110.50,64.50 L112.50,64.50 L112.50,65.50 L114.50,65.50 L114.50,65.50 L115.50,65.50 L115.50,66.50 L117.50,66.50 L117.50,66.50 L119.50,66.50 L119.50,67.50 L121.50,67.50 L121.50,67.50 L122.50,67.50 L122.50,68.50 L125.50,68.50 L125.50,68.50 L127.50,68.50 L127.50,68.50 L128.50,68.50 L128.50,70.50 L130.50,70.50 L130.50,71.50 L132.50,71.50 L132.50,72.50 L134.50,72.50 L134.50,72.50 L136.50,72.50 L136.50,73.50 L138.50,73.50 L138.50,74.50 L141.50,74.50 L141.50,74.50 L142.50,74.50 L142.50,75.50 L144.50,75.50 L144.50,76.50 L146.50,76.50 L146.50,76.50 L148.50,76.50 L148.50,76.50 L150.50,76.50 L150.50,77.50 L151.50,77.50 L151.50,78.50 L153.50,78.50 L153.50,78.50 L156.50,78.50 L156.50,78.50 L158.50,78.50 L158.50,79.50 L160.50,79.50 L160.50,79.50 L162.50,79.50 L162.50,79.50 L164.50,79.50 L164.50,80.50 L166.50,80.50 L166.50,80.50 L168.50,80.50 L168.50,80.50 L171.50,80.50 L171.50,80.50 L173.50,80.50 L173.50,81.50 L179.60,81.50 L181.50,81.50 L181.50,82.50 L183.50,82.50 L183.50,83.50 L185.50,83.50 L185.50,84.50 L187.50,84.50 L187.50,85.50 L189.50,85.50 L189.50,86.50 L242.70,86.50" fill="none" stroke="#33587a" stroke-width="1.25" stroke-linejoin="miter"/>
<path d="M130.50,69.60 V71.40 M136.50,71.60 V73.40 M141.50,73.60 V75.40 M146.50,75.60 V77.40 M151.50,76.60 V78.40 M156.50,77.60 V79.40 M160.50,78.60 V80.40 M165.50,79.60 V81.40 M170.50,79.60 V81.40 M175.50,80.60 V82.40 M180.50,80.60 V82.40 M184.50,82.60 V84.40 M190.50,85.60 V87.40 M193.50,85.60 V87.40 M197.50,85.60 V87.40 M199.50,85.60 V87.40 M203.50,85.60 V87.40 M206.50,85.60 V87.40 M210.50,85.60 V87.40 M213.50,85.60 V87.40 M215.50,85.60 V87.40 M217.50,85.60 V87.40 M220.50,85.60 V87.40 M223.50,85.60 V87.40 M226.50,85.60 V87.40 M229.50,85.60 V87.40 M232.50,85.60 V87.40 M235.50,85.60 V87.40 M237.50,85.60 V87.40 M241.50,85.60 V87.40" fill="none" stroke="#33587a" stroke-width="1.0" opacity="0.8"/>
<path d="M42.30,228.50 L43.50,228.50 L43.50,231.50 L44.50,231.50 L44.50,237.50 L44.50,237.50 L44.50,241.50 L46.50,241.50 L46.50,244.50 L49.50,244.50 L49.50,245.50 L50.50,245.50 L50.50,247.50 L52.50,247.50 L52.50,249.50 L53.50,249.50 L53.50,251.50 L55.50,251.50 L55.50,253.50 L57.50,253.50 L57.50,255.50 L59.50,255.50 L59.50,256.50 L61.50,256.50 L61.50,259.50 L63.50,259.50 L63.50,261.50 L65.50,261.50 L65.50,263.50 L66.50,263.50 L66.50,265.50 L68.50,265.50 L68.50,266.50 L70.50,266.50 L70.50,267.50 L72.50,267.50 L72.50,268.50 L74.50,268.50 L74.50,270.50 L76.50,270.50 L76.50,272.50 L78.50,272.50 L78.50,274.50 L80.50,274.50 L80.50,275.50 L82.50,275.50 L82.50,276.50 L84.50,276.50 L84.50,278.50 L86.50,278.50 L86.50,278.50 L88.50,278.50 L88.50,279.50 L90.50,279.50 L90.50,280.50 L92.50,280.50 L92.50,281.50 L94.50,281.50 L94.50,282.50 L96.50,282.50 L96.50,283.50 L99.50,283.50 L99.50,284.50 L101.50,284.50 L101.50,285.50 L103.50,285.50 L103.50,286.50 L105.50,286.50 L105.50,287.50 L107.50,287.50 L107.50,288.50 L109.50,288.50 L109.50,289.50 L111.50,289.50 L111.50,290.50 L113.50,290.50 L113.50,291.50 L115.50,291.50 L115.50,292.50 L117.50,292.50 L117.50,293.50 L119.50,293.50 L119.50,294.50 L121.50,294.50 L121.50,294.50 L123.50,294.50 L123.50,295.50 L125.50,295.50 L125.50,295.50 L127.50,295.50 L127.50,296.50 L129.50,296.50 L129.50,297.50 L131.50,297.50 L131.50,298.50 L133.50,298.50 L133.50,299.50 L135.50,299.50 L135.50,300.50 L137.50,300.50 L137.50,300.50 L139.50,300.50 L139.50,300.50 L141.50,300.50 L141.50,300.50 L143.50,300.50 L143.50,301.50 L145.50,301.50 L145.50,301.50 L148.50,301.50 L148.50,302.50 L150.50,302.50 L150.50,302.50 L183.80,302.50 L185.50,302.50 L185.50,303.50 L186.50,303.50 L186.50,306.50 L188.50,306.50 L188.50,309.50 L191.50,309.50 L193.50,309.50 L193.50,311.50 L194.50,311.50 L194.50,312.50 L236.90,312.50" fill="none" stroke="#33587a" stroke-width="1.25" stroke-linejoin="miter"/>
<path d="M120.50,293.60 V295.40 M125.50,294.60 V296.40 M130.50,296.60 V298.40 M136.50,299.60 V301.40 M141.50,299.60 V301.40 M146.50,300.60 V302.40 M151.50,301.60 V303.40 M156.50,301.60 V303.40 M161.50,301.60 V303.40 M166.50,301.60 V303.40 M171.50,301.60 V303.40 M176.50,301.60 V303.40 M181.50,301.60 V303.40 M196.50,311.60 V313.40 M200.50,311.60 V313.40 M205.50,311.60 V313.40 M210.50,311.60 V313.40 M214.50,311.60 V313.40 M218.50,311.60 V313.40 M223.50,311.60 V313.40 M228.50,311.60 V313.40 M232.50,311.60 V313.40 M236.50,311.60 V313.40" fill="none" stroke="#33587a" stroke-width="1.0" opacity="0.8"/>
<path d="M42.30,433.50 L44.60,433.50 L46.50,433.50 L46.50,435.50 L48.50,435.50 L48.50,437.50 L50.50,437.50 L50.50,440.50 L51.50,440.50 L51.50,442.50 L53.50,442.50 L53.50,445.50 L55.50,445.50 L55.50,446.50 L56.50,446.50 L56.50,447.50 L58.50,447.50 L58.50,449.50 L60.50,449.50 L60.50,452.50 L62.50,452.50 L62.50,454.50 L64.50,454.50 L64.50,457.50 L66.50,457.50 L66.50,458.50 L68.50,458.50 L68.50,459.50 L70.50,459.50 L70.50,460.50 L71.50,460.50 L71.50,462.50 L73.50,462.50 L73.50,464.50 L75.50,464.50 L75.50,466.50 L77.50,466.50 L77.50,467.50 L80.50,467.50 L80.50,469.50 L82.50,469.50 L82.50,470.50 L84.50,470.50 L84.50,472.50 L86.50,472.50 L86.50,473.50 L88.50,473.50 L88.50,474.50 L90.50,474.50 L90.50,474.50 L92.50,474.50 L92.50,475.50 L94.50,475.50 L94.50,476.50 L96.50,476.50 L96.50,477.50 L98.50,477.50 L98.50,478.50 L100.50,478.50 L100.50,479.50 L102.50,479.50 L102.50,481.50 L104.50,481.50 L104.50,482.50 L106.50,482.50 L106.50,483.50 L108.50,483.50 L108.50,484.50 L110.50,484.50 L110.50,485.50 L112.50,485.50 L112.50,486.50 L114.50,486.50 L114.50,486.50 L115.50,486.50 L115.50,486.50 L117.50,486.50 L117.50,489.50 L119.50,489.50 L119.50,489.50 L120.50,489.50 L120.50,490.50 L122.50,490.50 L122.50,490.50 L125.50,490.50 L125.50,491.50 L127.50,491.50 L127.50,493.50 L129.50,493.50 L129.50,494.50 L131.50,494.50 L131.50,495.50 L133.50,495.50 L133.50,496.50 L138.10,496.50 L140.50,496.50 L140.50,496.50 L141.50,496.50 L141.50,497.50 L146.50,497.50 L148.50,497.50 L148.50,497.50 L149.50,497.50 L149.50,498.50 L180.00,498.50 L182.50,498.50 L182.50,500.50 L184.50,500.50 L184.50,502.50 L186.50,502.50 L186.50,505.50 L190.00,505.50 L191.50,505.50 L191.50,508.50 L235.40,508.50" fill="none" stroke="#33587a" stroke-width="1.25" stroke-linejoin="miter"/>
<path d="M122.50,489.60 V491.40 M128.50,492.60 V494.40 M134.50,495.60 V497.40 M140.50,495.60 V497.40 M146.50,496.60 V498.40 M152.50,497.60 V499.40 M157.50,497.60 V499.40 M162.50,497.60 V499.40 M167.50,497.60 V499.40 M172.50,497.60 V499.40 M177.50,497.60 V499.40 M193.50,507.60 V509.40 M197.50,507.60 V509.40 M201.50,507.60 V509.40 M205.50,507.60 V509.40 M209.50,507.60 V509.40 M213.50,507.60 V509.40 M218.50,507.60 V509.40 M222.50,507.60 V509.40 M226.50,507.60 V509.40 M230.50,507.60 V509.40 M235.50,507.60 V509.40" fill="none" stroke="#33587a" stroke-width="1.0" opacity="0.8"/>
<path d="M296.40,23.50 L298.50,23.50 L298.50,30.50 L298.50,30.50 L298.50,37.50 L299.50,37.50 L299.50,43.50 L301.50,43.50 L301.50,50.50 L303.50,50.50 L303.50,57.50 L307.50,57.50 L307.50,64.50 L313.50,64.50 L313.50,70.50 L317.50,70.50 L317.50,84.50 L321.50,84.50 L321.50,91.50 L335.50,91.50 L335.50,97.50 L342.50,97.50 L342.50,104.50 L368.50,104.50 L368.50,111.50 L382.50,111.50 L382.50,118.50 L384.50,118.50 L384.50,125.50 L495.40,125.50" fill="none" stroke="#94b894" stroke-width="1.0" stroke-linejoin="miter"/>
<path d="M400.50,124.60 V126.40 M420.50,124.60 V126.40 M440.50,124.60 V126.40 M460.50,124.60 V126.40 M480.50,124.60 V126.40 M495.50,124.60 V126.40" fill="none" stroke="#94b894" stroke-width="1.0" opacity="0.8"/>
<path d="M296.40,23.50 L297.50,23.50 L297.50,24.50 L299.50,24.50 L299.50,27.50 L302.50,27.50 L302.50,29.50 L304.50,29.50 L304.50,31.50 L306.50,31.50 L306.50,32.50 L307.50,32.50 L307.50,35.50 L308.50,35.50 L308.50,39.50 L310.50,39.50 L310.50,43.50 L312.50,43.50 L312.50,46.50 L318.50,46.50 L320.50,46.50 L320.50,50.50 L327.70,50.50 L328.50,50.50 L328.50,52.50 L331.50,52.50 L331.50,52.50 L333.50,52.50 L333.50,53.50 L336.50,53.50 L336.50,55.50 L338.50,55.50 L338.50,57.50 L340.50,57.50 L340.50,61.50 L343.50,61.50 L343.50,65.50 L346.50,65.50 L346.50,68.50 L348.50,68.50 L348.50,70.50 L351.50,70.50 L351.50,72.50 L354.50,72.50 L354.50,74.50 L355.50,74.50 L355.50,76.50 L357.50,76.50 L357.50,76.50 L360.50,76.50 L360.50,76.50 L362.50,76.50 L362.50,76.50 L364.50,76.50 L364.50,76.50 L366.50,76.50 L366.50,78.50 L368.50,78.50 L368.50,78.50 L371.50,78.50 L371.50,78.50 L373.50,78.50 L373.50,78.50 L376.50,78.50 L376.50,78.50 L378.50,78.50 L378.50,78.50 L381.50,78.50 L381.50,78.50 L383.50,78.50 L383.50,81.50 L385.50,81.50 L385.50,81.50 L386.50,81.50 L386.50,82.50 L388.50,82.50 L388.50,86.50 L391.50,86.50 L391.50,87.50 L394.50,87.50 L394.50,87.50 L396.50,87.50 L396.50,89.50 L398.50,89.50 L398.50,89.50 L400.50,89.50 L400.50,89.50 L403.50,89.50 L403.50,90.50 L404.50,90.50 L404.50,93.50 L437.90,93.50 L438.50,93.50 L438.50,101.50 L468.50,101.50" fill="none" stroke="#a83864" stroke-width="1.1" stroke-linejoin="miter"/>
<path d="M370.50,77.60 V79.40 M376.50,77.60 V79.40 M392.50,86.60 V88.40 M410.50,92.60 V94.40 M420.50,92.60 V94.40 M428.50,92.60 V94.40 M452.50,100.60 V102.40 M457.50,100.60 V102.40 M460.50,100.60 V102.40 M467.50,100.60 V102.40" fill="none" stroke="#a83864" stroke-width="1.0" opacity="0.8"/>
<path d="M296.40,23.50 L298.50,23.50 L298.50,24.50 L300.50,24.50 L300.50,25.50 L302.50,25.50 L302.50,26.50 L304.50,26.50 L304.50,27.50 L306.50,27.50 L306.50,27.50 L308.50,27.50 L308.50,28.50 L310.50,28.50 L310.50,30.50 L313.50,30.50 L313.50,31.50 L316.50,31.50 L316.50,34.50 L318.50,34.50 L318.50,36.50 L320.50,36.50 L320.50,38.50 L321.50,38.50 L321.50,40.50 L323.50,40.50 L323.50,41.50 L325.50,41.50 L325.50,41.50 L327.50,41.50 L327.50,42.50 L330.50,42.50 L330.50,42.50 L332.50,42.50 L332.50,43.50 L334.50,43.50 L334.50,45.50 L336.50,45.50 L336.50,46.50 L339.50,46.50 L339.50,48.50 L341.50,48.50 L341.50,49.50 L344.50,49.50 L344.50,50.50 L346.50,50.50 L346.50,51.50 L348.50,51.50 L348.50,51.50 L350.50,51.50 L350.50,52.50 L354.50,52.50 L354.50,52.50 L357.50,52.50 L357.50,53.50 L360.50,53.50 L360.50,53.50 L363.50,53.50 L363.50,54.50 L366.50,54.50 L366.50,55.50 L369.50,55.50 L369.50,56.50 L372.50,56.50 L372.50,58.50 L375.50,58.50 L375.50,58.50 L378.50,58.50 L378.50,59.50 L380.50,59.50 L380.50,60.50 L383.50,60.50 L383.50,61.50 L386.50,61.50 L386.50,62.50 L389.50,62.50 L389.50,63.50 L391.50,63.50 L391.50,64.50 L394.50,64.50 L394.50,64.50 L397.50,64.50 L397.50,65.50 L400.50,65.50 L400.50,65.50 L403.50,65.50 L403.50,66.50 L406.50,66.50 L406.50,67.50 L409.50,67.50 L409.50,67.50 L412.50,67.50 L412.50,68.50 L415.50,68.50 L415.50,68.50 L418.50,68.50 L418.50,69.50 L421.50,69.50 L421.50,70.50 L424.50,70.50 L424.50,71.50 L427.50,71.50 L427.50,71.50 L430.50,71.50 L430.50,71.50 L432.50,71.50 L432.50,72.50 L434.50,72.50 L434.50,72.50 L435.50,72.50 L435.50,74.50 L437.50,74.50 L437.50,74.50 L440.50,74.50 L440.50,74.50 L442.50,74.50 L442.50,74.50 L443.50,74.50 L443.50,77.50 L490.80,77.50" fill="none" stroke="#2f5f8a" stroke-width="1.2" stroke-linejoin="miter"/>
<path d="M352.50,51.60 V53.40 M358.50,52.60 V54.40 M364.50,53.60 V55.40 M370.50,55.60 V57.40 M376.50,57.60 V59.40 M382.50,59.60 V61.40 M388.50,61.60 V63.40 M394.50,63.60 V65.40 M400.50,64.60 V66.40 M406.50,65.60 V67.40 M412.50,66.60 V68.40 M418.50,67.60 V69.40 M424.50,69.60 V71.40 M430.50,70.60 V72.40 M436.50,73.60 V75.40 M444.50,76.60 V78.40 M446.50,76.60 V78.40 M448.50,76.60 V78.40 M456.50,76.60 V78.40 M460.50,76.60 V78.40 M464.50,76.60 V78.40 M467.50,76.60 V78.40 M470.50,76.60 V78.40 M473.50,76.60 V78.40 M480.50,76.60 V78.40 M486.50,76.60 V78.40 M490.50,76.60 V78.40" fill="none" stroke="#2f5f8a" stroke-width="1.0" opacity="0.8"/>
<path d="M296.40,228.80 L298.00,232.50 L299.50,235.60 L303.60,236.50 L308.70,236.50 L311.30,235.70 L313.50,240.50 L316.00,240.00 L318.00,244.00 L320.00,245.40 L323.10,246.90 L323.80,251.10 L327.70,251.50 L328.90,255.50 L330.80,255.50 L331.50,259.50 L336.20,259.50 L336.90,266.90 L339.20,267.70 L340.00,271.50 L341.50,271.50 L342.30,274.60 L346.20,275.10 L346.90,279.50 L360.80,279.50 L361.50,283.50 L370.80,283.50 L371.50,286.50 L394.60,286.50 L395.40,296.80 L400.80,296.90 L401.50,301.50 L434.60,301.50 L435.40,309.50 L496.20,309.50" fill="none" stroke="#3a5f80" stroke-width="1.1" stroke-linejoin="miter"/>
<path d="M380.50,285.60 V287.40 M390.50,285.60 V287.40 M410.50,300.60 V302.40 M420.50,300.60 V302.40 M430.50,300.60 V302.40 M439.50,308.60 V310.40 M456.50,308.60 V310.40 M460.50,308.60 V310.40 M463.50,308.60 V310.40 M468.50,308.60 V310.40 M487.50,308.60 V310.40 M495.50,308.60 V310.40" fill="none" stroke="#3a5f80" stroke-width="1.0" opacity="0.8"/>
<path d="M296.40,228.50 L298.50,228.50 L298.50,232.50 L303.20,232.50 L303.50,232.50 L303.50,236.50 L308.70,236.50 L311.50,236.50 L311.50,238.50 L314.50,238.50 L314.50,242.50 L316.50,242.50 L316.50,243.50 L320.50,243.50 L320.50,245.50 L337.70,245.50 L340.50,245.50 L340.50,250.50 L343.50,250.50 L343.50,250.50 L346.50,250.50 L346.50,250.50 L349.50,250.50 L349.50,251.50 L351.50,251.50 L351.50,252.50 L353.50,252.50 L353.50,253.50 L356.50,253.50 L356.50,255.50 L358.50,255.50 L358.50,256.50 L361.50,256.50 L361.50,256.50 L364.50,256.50 L364.50,257.50 L366.50,257.50 L366.50,258.50 L369.50,258.50 L369.50,258.50 L371.50,258.50 L371.50,259.50 L373.50,259.50 L373.50,260.50 L375.50,260.50 L375.50,260.50 L376.50,260.50 L376.50,261.50 L379.50,261.50 L379.50,263.50 L381.50,263.50 L381.50,263.50 L383.50,263.50 L383.50,264.50 L385.50,264.50 L385.50,265.50 L387.50,265.50 L387.50,269.50 L403.10,269.50 L404.50,269.50 L404.50,271.50 L425.60,271.50 L426.50,271.50 L426.50,275.50 L470.80,275.50" fill="none" stroke="#a83864" stroke-width="1.1" stroke-linejoin="miter"/>
<path d="M360.50,255.60 V257.40 M366.50,256.60 V258.40 M372.50,258.60 V260.40 M378.50,260.60 V262.40 M384.50,263.60 V265.40 M392.50,268.60 V270.40 M398.50,268.60 V270.40 M410.50,270.60 V272.40 M416.50,270.60 V272.40 M422.50,270.60 V272.40 M428.50,274.60 V276.40 M431.50,274.60 V276.40 M433.50,274.60 V276.40 M436.50,274.60 V276.40 M440.50,274.60 V276.40 M443.50,274.60 V276.40 M445.50,274.60 V276.40 M447.50,274.60 V276.40 M457.50,274.60 V276.40 M466.50,274.60 V276.40 M469.50,274.60 V276.40" fill="none" stroke="#a83864" stroke-width="1.0" opacity="0.8"/>
<path d="M296.40,433.50 L312.50,433.50 L313.20,437.50 L324.00,437.50 L324.80,442.50 L329.40,442.50 L330.60,446.50 L338.60,446.50 L339.40,451.50 L345.40,451.50 L346.20,456.50 L362.30,456.50 L363.10,460.50 L488.90,460.50" fill="none" stroke="#a83864" stroke-width="1.1" stroke-linejoin="miter"/>
<path d="M318.50,436.60 V438.40 M336.50,445.60 V447.40 M352.50,455.60 V457.40 M358.50,455.60 V457.40 M367.50,459.60 V461.40 M371.50,459.60 V461.40 M379.50,459.60 V461.40 M381.50,459.60 V461.40 M393.50,459.60 V461.40 M401.50,459.60 V461.40 M403.50,459.60 V461.40 M410.50,459.60 V461.40 M416.50,459.60 V461.40 M432.50,459.60 V461.40 M434.50,459.60 V461.40 M436.50,459.60 V461.40 M440.50,459.60 V461.40 M441.50,459.60 V461.40 M455.50,459.60 V461.40 M488.50,459.60 V461.40" fill="none" stroke="#a83864" stroke-width="1.0" opacity="0.8"/>
<path d="M296.40,433.50 L300.20,433.50 L300.50,433.50 L300.50,436.50 L303.50,436.50 L303.50,438.50 L304.50,438.50 L304.50,440.50 L307.50,440.50 L307.50,443.50 L309.50,443.50 L309.50,446.50 L310.50,446.50 L310.50,449.50 L313.50,449.50 L313.50,451.50 L314.50,451.50 L314.50,456.50 L316.50,456.50 L316.50,460.50 L318.50,460.50 L318.50,460.50 L320.50,460.50 L320.50,465.50 L321.50,465.50 L321.50,470.50 L323.50,470.50 L323.50,470.50 L324.50,470.50 L324.50,471.50 L327.50,471.50 L327.50,475.50 L328.50,475.50 L328.50,480.50 L330.50,480.50 L330.50,480.50 L331.50,480.50 L331.50,481.50 L333.50,481.50 L333.50,484.50 L335.50,484.50 L335.50,484.50 L337.50,484.50 L337.50,484.50 L339.50,484.50 L339.50,484.50 L340.50,484.50 L340.50,487.50 L351.50,487.50 L353.50,487.50 L353.50,498.50 L354.50,498.50 L354.50,498.50 L356.50,498.50 L356.50,498.50 L358.50,498.50 L358.50,498.50 L360.50,498.50 L360.50,502.50 L361.50,502.50 L361.50,502.50 L363.50,502.50 L363.50,502.50 L364.50,502.50 L364.50,506.50 L366.50,506.50 L366.50,506.50 L368.50,506.50 L368.50,506.50 L370.50,506.50 L370.50,506.50 L371.50,506.50 L371.50,510.50 L376.90,510.50 L378.50,510.50 L378.50,514.50 L393.80,514.50 L395.50,514.50 L395.50,521.50 L474.60,521.50" fill="none" stroke="#3a5f80" stroke-width="1.1" stroke-linejoin="miter"/>
<path d="M336.50,483.60 V485.40 M348.50,486.60 V488.40 M368.50,505.60 V507.40 M385.50,513.60 V515.40 M390.50,513.60 V515.40 M403.50,520.60 V522.40 M409.50,520.60 V522.40 M415.50,520.60 V522.40 M429.50,520.60 V522.40 M436.50,520.60 V522.40 M466.50,520.60 V522.40 M473.50,520.60 V522.40" fill="none" stroke="#3a5f80" stroke-width="1.0" opacity="0.8"/>
<text x="57.90" y="152.05" font-size="4.9" text-anchor="start" fill="#2e2e2e" textLength="15.00" lengthAdjust="spacingAndGlyphs" stroke="#444" stroke-width="0.05">N (Evt)</text>
<text x="101.00" y="152.25" font-size="4.9" text-anchor="start" fill="#2e2e2e" textLength="34.60" lengthAdjust="spacingAndGlyphs" stroke="#444" stroke-width="0.05">KM Est (95% CI)</text>
<path d="M42.3,159.2 H52.7" stroke="#6a8aaa" stroke-width="1.0"/>
<text x="55.80" y="161.00" font-size="4.9" text-anchor="start" fill="#2e2e2e" textLength="21.40" lengthAdjust="spacingAndGlyphs" stroke="#444" stroke-width="0.05">295 (105)</text>
<text x="79.40" y="161.00" font-size="4.9" text-anchor="start" fill="#2e2e2e" textLength="13.90" lengthAdjust="spacingAndGlyphs" stroke="#444" stroke-width="0.05">36 mos:</text>
<text x="95.80" y="161.00" font-size="4.9" text-anchor="start" fill="#2e2e2e" textLength="38.60" lengthAdjust="spacingAndGlyphs" stroke="#444" stroke-width="0.05">72.6 (67.6-78.1%)</text>
<text x="121.20" y="167.75" font-size="4.9" text-anchor="start" fill="#2e2e2e" textLength="19.00" lengthAdjust="spacingAndGlyphs" stroke="#444" stroke-width="0.05">+ Censor</text>
<text x="58.70" y="357.75" font-size="4.9" text-anchor="start" fill="#2e2e2e" textLength="14.80" lengthAdjust="spacingAndGlyphs" stroke="#444" stroke-width="0.05">N (Evt)</text>
<text x="108.70" y="357.75" font-size="4.9" text-anchor="start" fill="#2e2e2e" textLength="33.60" lengthAdjust="spacingAndGlyphs" stroke="#444" stroke-width="0.05">KM Est (95% CI)</text>
<path d="M42.3,363.8 H52.7" stroke="#6a8aaa" stroke-width="1.0"/>
<text x="55.80" y="365.55" font-size="4.9" text-anchor="start" fill="#2e2e2e" textLength="20.20" lengthAdjust="spacingAndGlyphs" stroke="#444" stroke-width="0.05">295 (139)</text>
<text x="78.80" y="365.55" font-size="4.9" text-anchor="start" fill="#2e2e2e" textLength="15.00" lengthAdjust="spacingAndGlyphs" stroke="#444" stroke-width="0.05">36 mos:</text>
<text x="96.70" y="365.55" font-size="4.9" text-anchor="start" fill="#2e2e2e" textLength="33.10" lengthAdjust="spacingAndGlyphs" stroke="#444" stroke-width="0.05">59.1 (53.8-65.3%)</text>
<text x="121.20" y="372.75" font-size="4.9" text-anchor="start" fill="#2e2e2e" textLength="19.20" lengthAdjust="spacingAndGlyphs" stroke="#444" stroke-width="0.05">+ Censor</text>
<text x="58.10" y="566.45" font-size="4.9" text-anchor="start" fill="#2e2e2e" textLength="15.50" lengthAdjust="spacingAndGlyphs" stroke="#444" stroke-width="0.05">N (Evt)</text>
<text x="108.20" y="566.45" font-size="4.9" text-anchor="start" fill="#2e2e2e" textLength="32.10" lengthAdjust="spacingAndGlyphs" stroke="#444" stroke-width="0.05">KM Est (95% CI)</text>
<path d="M42.3,572.5 H52.7" stroke="#6a8aaa" stroke-width="1.0"/>
<text x="55.80" y="574.25" font-size="4.9" text-anchor="start" fill="#2e2e2e" textLength="21.30" lengthAdjust="spacingAndGlyphs" stroke="#444" stroke-width="0.05">263 (107)</text>
<text x="79.70" y="574.25" font-size="4.9" text-anchor="start" fill="#2e2e2e" textLength="14.20" lengthAdjust="spacingAndGlyphs" stroke="#444" stroke-width="0.05">36 mos:</text>
<text x="96.70" y="574.25" font-size="4.9" text-anchor="start" fill="#2e2e2e" textLength="37.50" lengthAdjust="spacingAndGlyphs" stroke="#444" stroke-width="0.05">66.1 (60.4-72.3%)</text>
<text x="121.20" y="579.95" font-size="4.9" text-anchor="start" fill="#2e2e2e" textLength="19.90" lengthAdjust="spacingAndGlyphs" stroke="#444" stroke-width="0.05">+ Censor</text>
<text x="314.20" y="136.55" font-size="4.9" text-anchor="start" fill="#2e2e2e" textLength="13.40" lengthAdjust="spacingAndGlyphs" stroke="#444" stroke-width="0.05">obese</text>
<text x="335.30" y="136.55" font-size="4.9" text-anchor="start" fill="#2e2e2e" textLength="15.40" lengthAdjust="spacingAndGlyphs" stroke="#444" stroke-width="0.05">N (Evt)</text>
<text x="375.40" y="136.65" font-size="4.9" text-anchor="start" fill="#2e2e2e" textLength="34.60" lengthAdjust="spacingAndGlyphs" stroke="#444" stroke-width="0.05">KM Est (95% CI)</text>
<text x="423.80" y="136.65" font-size="4.9" text-anchor="start" fill="#2e2e2e" textLength="26.20" lengthAdjust="spacingAndGlyphs" stroke="#444" stroke-width="0.05">HR (95% CI)</text>
<path d="M296.0,143.4 H306.8" stroke="#2f5f8a" stroke-width="1.0"/>
<text x="309.40" y="144.75" font-size="4.9" text-anchor="start" fill="#2e2e2e" textLength="20.20" lengthAdjust="spacingAndGlyphs" stroke="#444" stroke-width="0.05">BMI &lt; 30</text>
<text x="331.20" y="144.75" font-size="4.9" text-anchor="start" fill="#2e2e2e" textLength="17.40" lengthAdjust="spacingAndGlyphs" stroke="#444" stroke-width="0.05">201 (58)</text>
<text x="350.90" y="144.75" font-size="4.9" text-anchor="start" fill="#2e2e2e" textLength="14.60" lengthAdjust="spacingAndGlyphs" stroke="#444" stroke-width="0.05">36 mos:</text>
<text x="367.50" y="144.75" font-size="4.9" text-anchor="start" fill="#2e2e2e" textLength="38.70" lengthAdjust="spacingAndGlyphs" stroke="#444" stroke-width="0.05">78.8 (73.2-84.9%)</text>
<text x="412.30" y="144.65" font-size="4.9" text-anchor="start" fill="#2e2e2e" textLength="22.30" lengthAdjust="spacingAndGlyphs" stroke="#444" stroke-width="0.05">Reference</text>
<path d="M296.0,150.5 H306.8" stroke="#a83864" stroke-width="1.0"/>
<text x="309.40" y="152.55" font-size="4.9" text-anchor="start" fill="#2e2e2e" textLength="23.40" lengthAdjust="spacingAndGlyphs" stroke="#444" stroke-width="0.05">BMI 30-40</text>
<text x="334.30" y="152.55" font-size="4.9" text-anchor="start" fill="#2e2e2e" textLength="14.40" lengthAdjust="spacingAndGlyphs" stroke="#444" stroke-width="0.05">72 (32)</text>
<text x="351.60" y="152.55" font-size="4.9" text-anchor="start" fill="#2e2e2e" textLength="15.40" lengthAdjust="spacingAndGlyphs" stroke="#444" stroke-width="0.05">36 mos:</text>
<text x="368.90" y="152.55" font-size="4.9" text-anchor="start" fill="#2e2e2e" textLength="37.30" lengthAdjust="spacingAndGlyphs" stroke="#444" stroke-width="0.05">64.3 (54.0-76.6%)</text>
<text x="409.50" y="152.95" font-size="4.9" text-anchor="start" fill="#2e2e2e" textLength="33.50" lengthAdjust="spacingAndGlyphs" stroke="#444" stroke-width="0.05">1.72 (1.12-2.65)</text>
<path d="M296.0,158.5 H306.8" stroke="#94b894" stroke-width="1.0"/>
<text x="309.40" y="160.75" font-size="4.9" text-anchor="start" fill="#2e2e2e" textLength="19.10" lengthAdjust="spacingAndGlyphs" stroke="#444" stroke-width="0.05">BMI 40+</text>
<text x="330.40" y="160.75" font-size="4.9" text-anchor="start" fill="#2e2e2e" textLength="14.90" lengthAdjust="spacingAndGlyphs" stroke="#444" stroke-width="0.05">22 (15)</text>
<text x="347.70" y="160.75" font-size="4.9" text-anchor="start" fill="#2e2e2e" textLength="14.90" lengthAdjust="spacingAndGlyphs" stroke="#444" stroke-width="0.05">36 mos:</text>
<text x="365.00" y="160.75" font-size="4.9" text-anchor="start" fill="#2e2e2e" textLength="38.00" lengthAdjust="spacingAndGlyphs" stroke="#444" stroke-width="0.05">45.5 (28.8-71.8%)</text>
<text x="405.80" y="161.05" font-size="4.9" text-anchor="start" fill="#2e2e2e" textLength="33.40" lengthAdjust="spacingAndGlyphs" stroke="#444" stroke-width="0.05">3.29 (1.86-5.82)</text>
<text x="310.20" y="169.75" font-size="4.9" text-anchor="start" fill="#2e2e2e" textLength="70.60" lengthAdjust="spacingAndGlyphs" stroke="#444" stroke-width="0.05">Likelihood Ratio P-value: 0.0003</text>
<text x="431.50" y="169.75" font-size="4.9" text-anchor="start" fill="#2e2e2e" textLength="19.30" lengthAdjust="spacingAndGlyphs" stroke="#444" stroke-width="0.05">+ Censor</text>
<text x="312.30" y="347.55" font-size="4.9" text-anchor="start" fill="#2e2e2e" textLength="15.60" lengthAdjust="spacingAndGlyphs" stroke="#444" stroke-width="0.05">Ph Like</text>
<text x="332.50" y="347.55" font-size="4.9" text-anchor="start" fill="#2e2e2e" textLength="15.00" lengthAdjust="spacingAndGlyphs" stroke="#444" stroke-width="0.05">N (Evt)</text>
<text x="373.50" y="347.55" font-size="4.9" text-anchor="start" fill="#2e2e2e" textLength="34.60" lengthAdjust="spacingAndGlyphs" stroke="#444" stroke-width="0.05">KM Est (95% CI)</text>
<text x="421.90" y="347.55" font-size="4.9" text-anchor="start" fill="#2e2e2e" textLength="25.40" lengthAdjust="spacingAndGlyphs" stroke="#444" stroke-width="0.05">HR (95% CI)</text>
<path d="M296.2,354.2 H310.0" stroke="#3a5f80" stroke-width="1.0"/>
<text x="318.10" y="356.05" font-size="4.9" text-anchor="start" fill="#2e2e2e" textLength="6.30" lengthAdjust="spacingAndGlyphs" stroke="#444" stroke-width="0.05">Yes</text>
<text x="331.30" y="356.05" font-size="4.9" text-anchor="start" fill="#2e2e2e" textLength="14.50" lengthAdjust="spacingAndGlyphs" stroke="#444" stroke-width="0.05">41 (19)</text>
<text x="349.20" y="356.05" font-size="4.9" text-anchor="start" fill="#2e2e2e" textLength="13.90" lengthAdjust="spacingAndGlyphs" stroke="#444" stroke-width="0.05">36 mos:</text>
<text x="365.40" y="355.85" font-size="4.9" text-anchor="start" fill="#2e2e2e" textLength="38.80" lengthAdjust="spacingAndGlyphs" stroke="#444" stroke-width="0.05">63.3 (49.6-80.7%)</text>
<text x="406.50" y="355.75" font-size="4.9" text-anchor="start" fill="#2e2e2e" textLength="33.90" lengthAdjust="spacingAndGlyphs" stroke="#444" stroke-width="0.05">1.92 (1.05-3.48)</text>
<path d="M296.2,362.6 H310.0" stroke="#a83864" stroke-width="1.0"/>
<text x="318.10" y="364.55" font-size="4.9" text-anchor="start" fill="#2e2e2e" textLength="5.90" lengthAdjust="spacingAndGlyphs" stroke="#444" stroke-width="0.05">No</text>
<text x="331.30" y="364.55" font-size="4.9" text-anchor="start" fill="#2e2e2e" textLength="14.50" lengthAdjust="spacingAndGlyphs" stroke="#444" stroke-width="0.05">90 (25)</text>
<text x="348.10" y="364.55" font-size="4.9" text-anchor="start" fill="#2e2e2e" textLength="15.00" lengthAdjust="spacingAndGlyphs" stroke="#444" stroke-width="0.05">36 mos:</text>
<text x="365.40" y="364.45" font-size="4.9" text-anchor="start" fill="#2e2e2e" textLength="38.80" lengthAdjust="spacingAndGlyphs" stroke="#444" stroke-width="0.05">80.5 (72.6-89.3%)</text>
<text x="412.70" y="364.45" font-size="4.9" text-anchor="start" fill="#2e2e2e" textLength="20.80" lengthAdjust="spacingAndGlyphs" stroke="#444" stroke-width="0.05">Reference</text>
<text x="312.30" y="373.05" font-size="4.9" text-anchor="start" fill="#2e2e2e" textLength="73.90" lengthAdjust="spacingAndGlyphs" stroke="#444" stroke-width="0.05">Likelihood Ratio P-value: 0.0371</text>
<text x="433.50" y="373.25" font-size="4.9" text-anchor="start" fill="#2e2e2e" textLength="19.60" lengthAdjust="spacingAndGlyphs" stroke="#444" stroke-width="0.05">+ Censor</text>
<text x="310.00" y="552.85" font-size="4.9" text-anchor="start" fill="#2e2e2e" textLength="25.80" lengthAdjust="spacingAndGlyphs" stroke="#444" stroke-width="0.05">MRD Status</text>
<text x="344.60" y="552.85" font-size="4.9" text-anchor="start" fill="#2e2e2e" textLength="18.90" lengthAdjust="spacingAndGlyphs" stroke="#444" stroke-width="0.05">N (Evt)</text>
<text x="376.00" y="552.95" font-size="4.9" text-anchor="start" fill="#2e2e2e" textLength="25.90" lengthAdjust="spacingAndGlyphs" stroke="#444" stroke-width="0.05">HR (95% CI)</text>
<path d="M296.2,558.9 H306.6" stroke="#3a5f80" stroke-width="1.0"/>
<text x="310.00" y="560.65" font-size="4.9" text-anchor="start" fill="#2e2e2e" textLength="23.80" lengthAdjust="spacingAndGlyphs" stroke="#444" stroke-width="0.05">Detectable</text>
<text x="349.20" y="560.65" font-size="4.9" text-anchor="start" fill="#2e2e2e" textLength="15.40" lengthAdjust="spacingAndGlyphs" stroke="#444" stroke-width="0.05">45 (28)</text>
<text x="378.80" y="560.95" font-size="4.9" text-anchor="start" fill="#2e2e2e" textLength="22.20" lengthAdjust="spacingAndGlyphs" stroke="#444" stroke-width="0.05">Reference</text>
<path d="M296.2,566.5 H306.6" stroke="#a83864" stroke-width="1.0"/>
<text x="310.00" y="568.25" font-size="4.9" text-anchor="start" fill="#2e2e2e" textLength="30.00" lengthAdjust="spacingAndGlyphs" stroke="#444" stroke-width="0.05">Undetectable</text>
<text x="350.80" y="568.25" font-size="4.9" text-anchor="start" fill="#2e2e2e" textLength="11.50" lengthAdjust="spacingAndGlyphs" stroke="#444" stroke-width="0.05">35 (6)</text>
<text x="372.10" y="568.25" font-size="4.9" text-anchor="start" fill="#2e2e2e" textLength="34.10" lengthAdjust="spacingAndGlyphs" stroke="#444" stroke-width="0.05">0.25 (0.10-0.61)</text>
<text x="310.00" y="575.95" font-size="4.9" text-anchor="start" fill="#2e2e2e" textLength="91.90" lengthAdjust="spacingAndGlyphs" stroke="#444" stroke-width="0.05">Likelihood Ratio P-value: 0.0006 + Censor</text>
<g shape-rendering="crispEdges">
<rect x="0" y="1" width="1" height="619" fill="#4b4b4b"/>
<rect x="1" y="2" width="1" height="617" fill="#9a9a9a"/>
<rect x="0" y="0" width="520" height="1" fill="#4b4b4b"/>
<rect x="2" y="1" width="517" height="1" fill="#9a9a9a"/>
<rect x="519" y="0" width="1" height="620" fill="#141414"/>
<rect x="0" y="619" width="520" height="1" fill="#141414"/>
</g>
</svg>
</body></html>
